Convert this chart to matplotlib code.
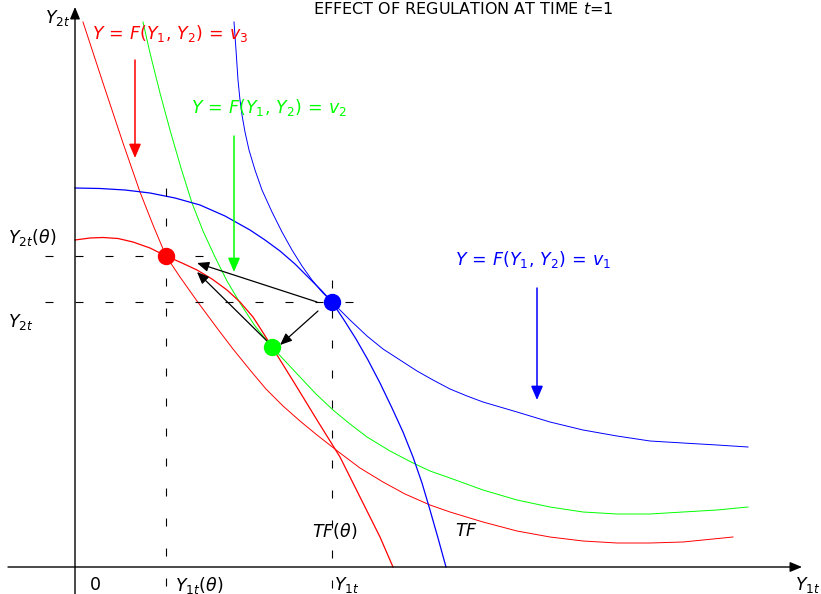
import matplotlib
matplotlib.use("Agg")
import matplotlib.pyplot as plt

# coordinates: origin where the two axes cross, one unit = one pixel
plt.rcParams['mathtext.fontset'] = 'dejavusans'
plt.rcParams['lines.scale_dashes'] = False

RED, GREEN, BLUE = '#ff0000', '#00ff00', '#0000ff'

# indifference curves Y = F(Y1, Y2) = v
v1_x = [159, 161, 163, 165, 167, 170, 174, 180, 187, 197, 207, 217, 227, 237, 247, 257, 275,
        292, 308, 325, 342, 358, 375, 392, 408, 425, 442, 475, 508, 542, 575, 608, 642, 673]
v1_y = [545, 517, 487, 467, 452, 435, 417, 397, 377, 355, 335, 317, 301, 287, 275, 265, 247,
        231, 218, 207, 196, 187, 178, 171, 165, 160, 155, 145, 137, 131, 126, 124, 122, 120]

v2_x = [68, 75, 85, 95, 106, 117, 128, 140, 152, 165, 180, 197, 211, 225, 241, 258, 275,
        292, 315, 338, 355, 375, 408, 442, 475, 508, 542, 575, 608, 642, 673]
v2_y = [545, 514, 474, 437, 399, 364, 336, 310, 286, 264, 241, 220, 205, 190, 173, 157, 143,
        130, 116, 104, 96, 89, 77, 67, 60, 55, 53, 53, 55, 57, 60]

v3_x = [8, 28, 48, 65, 78, 91, 105, 122, 142, 158, 175, 191, 208, 225, 242, 265, 285, 308,
        330, 355, 375, 408, 442, 475, 508, 542, 575, 608, 658]
v3_y = [545, 484, 424, 375, 342, 311, 290, 266, 239, 218, 197, 178, 161, 146, 132, 114, 99,
        85, 73, 62, 55, 45, 36, 30, 26, 24, 24, 25, 30]

# transformation frontiers TF and TF(theta)
tf_x = [0, 25, 50, 75, 100, 125, 150, 175, 190, 205, 220, 235, 246, 257, 269, 281, 293, 305,
        317, 328, 338, 347, 355, 363, 371]
tf_y = [379, 378.5, 377, 374, 369, 362, 351, 337, 327, 316, 303, 288, 277, 265, 247, 228, 207,
        184, 159, 135, 110, 84, 57, 29, 0]

tfr_x = [0, 15, 28, 43, 58, 75, 91, 107, 122, 137, 152, 165, 178, 187, 197, 220, 242, 265,
         288, 305, 318]
tfr_y = [327, 329, 329.5, 328.5, 325, 319, 311, 304, 297, 288, 277, 265, 250, 236, 220, 183,
         147, 110, 64, 30, 0]

# equilibrium points
pt_red = (91, 311)
pt_green = (197, 220)
pt_blue = (257, 265)

fig = plt.figure(figsize=(8.21, 5.94), dpi=100)
ax = fig.add_axes([0, 0, 1, 1])
ax.set_xlim(-75, 746)
ax.set_ylim(-27, 567)
ax.axis('off')

ax.plot(v1_x, v1_y, color=BLUE, lw=0.7)
ax.plot(v2_x, v2_y, color=GREEN, lw=0.7)
ax.plot(v3_x, v3_y, color=RED, lw=0.7)
ax.plot(tf_x, tf_y, color=BLUE, lw=0.9)
ax.plot(tfr_x, tfr_y, color=RED, lw=0.9)

# dashed guide lines
dash = (0, (5.76, 15.84))
ax.plot([-30, 132], [pt_red[1], pt_red[1]], color='black', lw=0.8, linestyle=dash)
ax.plot([-30, 283], [pt_blue[1], pt_blue[1]], color='black', lw=0.8, linestyle=dash)
ax.plot([pt_red[0], pt_red[0]], [379, -27], color='black', lw=0.8, linestyle=dash)
ax.plot([pt_blue[0], pt_blue[0]], [287, -27], color='black', lw=0.8, linestyle=dash)

# axes with arrows
ax_arrow = dict(arrowstyle='-|>,head_length=0.6,head_width=0.25', color='black', lw=1.0,
                mutation_scale=12, shrinkA=0, shrinkB=0)
ax.annotate('', xy=(727, 0), xytext=(-67, 0), arrowprops=ax_arrow)
ax.annotate('', xy=(0, 560), xytext=(0, -27), arrowprops=ax_arrow)

# movement arrows
blk = dict(arrowstyle='-|>,head_length=0.6,head_width=0.25', color='black', lw=0.9,
           mutation_scale=12, shrinkA=0, shrinkB=0)
ax.annotate('', xy=(122, 304), xytext=(242, 265), arrowprops=blk)
ax.annotate('', xy=(205, 222), xytext=(243, 256), arrowprops=blk)
ax.annotate('', xy=(122, 295), xytext=(193, 225), arrowprops=blk)

for x, y0, y1, c in [(60, 507, 409, RED), (159, 431, 295, GREEN), (462, 279, 167, BLUE)]:
    ax.annotate('', xy=(x, y1), xytext=(x, y0),
                arrowprops=dict(arrowstyle='-|>,head_length=0.7,head_width=0.3', color=c,
                                lw=1.1, mutation_scale=12, shrinkA=0, shrinkB=0))

for p, c in [(pt_red, RED), (pt_green, GREEN), (pt_blue, BLUE)]:
    ax.plot(p[0], p[1], 'o', color=c, ms=11.5, zorder=5)

fs = 12.5
ax.text(17, 534, r'$Y\,=\,F(Y_1,\,Y_2)\,=\,v_3$', color=RED, fontsize=fs, va='center')
ax.text(116, 459, r'$Y\,=\,F(Y_1,\,Y_2)\,=\,v_2$', color=GREEN, fontsize=fs, va='center')
ax.text(380, 307, r'$Y\,=\,F(Y_1,\,Y_2)\,=\,v_1$', color=BLUE, fontsize=fs, va='center')
ax.text(388, 566, r'EFFECT OF REGULATION AT TIME $t$=1', fontsize=11.5, ha='center', va='top')

ax.text(-30, 549, r'$Y_{2t}$', fontsize=fs, va='center')
ax.text(-67, 329, r'$Y_{2t}(\theta)$', fontsize=fs, va='center')
ax.text(-67, 245, r'$Y_{2t}$', fontsize=fs, va='center')
ax.text(20, -18, '0', fontsize=fs, ha='center', va='center')
ax.text(100, -18, r'$Y_{1t}(\theta)$', fontsize=fs, va='center')
ax.text(259, -18, r'$Y_{1t}$', fontsize=fs, va='center')
ax.text(720, -18, r'$Y_{1t}$', fontsize=fs, va='center')
ax.text(237, 36, r'$TF(\theta)$', fontsize=fs, va='center')
ax.text(380, 36, r'$TF$', fontsize=fs, va='center')

fig.savefig('out.png', dpi=100)
